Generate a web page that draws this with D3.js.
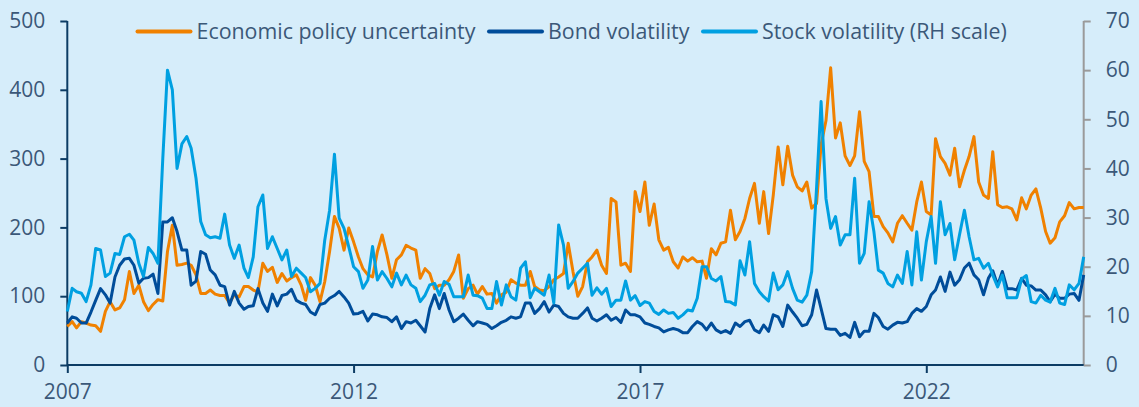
<!DOCTYPE html>
<html>
<head>
<meta charset="utf-8">
<script src="https://cdn.jsdelivr.net/npm/d3@7"></script>
<style>
  html, body { margin: 0; padding: 0; background: #d6edfa; }
  svg { display: block; font-family: "Open Sans", "Noto Sans", sans-serif; }
</style>
</head>
<body>
<div id="chart"></div>
<script>
// monthly, Jan 2007 - Oct 2024
var startMonth = new Date(2007, 0, 1);

var policyUncertainty = [
  56, 63, 54, 63, 61, 58, 57, 49, 78, 92, 80, 83, 95, 136, 104, 116, 92, 79, 88, 95, 93, 165, 203, 145,
  146, 148, 145, 131, 104, 104, 109, 103, 101, 101, 90, 102,
  99, 114, 114, 109, 106, 148, 136, 142, 120, 133, 122, 127, 131, 116, 94, 127, 116, 92, 121, 165, 216, 199, 167, 199,
  179, 157, 140, 131, 128, 165, 189, 160, 126, 153, 160, 174,
  170, 167, 126, 140, 133, 111, 116, 116, 124, 136, 160, 97, 111, 116, 103, 114, 103, 104, 90, 102, 106, 124, 119, 116,
  116, 136, 114, 109, 108, 114, 124, 128, 133, 177, 135, 100,
  114, 150, 157, 167, 145, 133, 242, 237, 145, 148, 136, 252, 223, 266, 203, 234, 182, 167, 171, 150, 141, 157, 151, 156,
  150, 151, 126, 169, 160, 177, 179, 225, 182, 194, 213, 242,
  264, 206, 252, 191, 247, 317, 262, 318, 276, 259, 253, 266, 228, 235, 320, 355, 432, 330, 352, 304, 290, 304, 368, 296,
  281, 216, 216, 201, 192, 179, 206, 217, 206, 196, 237, 266,
  223, 218, 329, 303, 293, 276, 315, 259, 283, 303, 332, 266, 247, 242, 310, 233, 229, 230, 227, 211, 243, 227, 247, 256,
  228, 194, 177, 185, 208, 217, 236, 227, 229, 229
];

var bondVolatility = [
  61, 70, 68, 61, 61, 77, 94, 111, 102, 90, 128, 145, 154, 155, 145, 119, 126, 127, 132, 104, 208, 208, 214, 194,
  167, 167, 116, 122, 165, 161, 138, 131, 116, 114, 87, 107,
  90, 81, 85, 86, 111, 90, 78, 103, 86, 101, 103, 110, 94, 90, 88, 77, 73, 88, 90, 97, 101, 107, 99, 90,
  74, 75, 78, 64, 74, 73, 70, 69, 63, 70, 53, 63,
  61, 65, 57, 48, 82, 102, 82, 104, 80, 63, 68, 74, 65, 57, 63, 61, 59, 53, 57, 62, 65, 70, 68, 70,
  90, 90, 75, 82, 92, 77, 87, 85, 75, 70, 68, 68,
  75, 83, 68, 64, 68, 73, 65, 69, 62, 80, 73, 73, 70, 61, 59, 56, 54, 48, 51, 53, 51, 47, 47, 56,
  63, 59, 51, 61, 51, 47, 50, 46, 61, 56, 63, 65,
  51, 47, 58, 49, 73, 70, 56, 87, 77, 68, 57, 59, 73, 109, 82, 53, 52, 52, 43, 46, 40, 62, 41, 49,
  49, 75, 69, 56, 52, 58, 62, 61, 63, 75, 82, 78,
  85, 102, 109, 128, 107, 135, 116, 124, 141, 148, 131, 124, 102, 126, 137, 116, 136, 111, 111, 109, 126, 116, 115, 109,
  109, 102, 92, 103, 97, 97, 103, 104, 94, 131
];

var stockVolatility = [
  10.9, 15.6, 14.9, 14.6, 12.9, 16.3, 23.7, 23.4, 18.0, 18.7, 22.7, 22.5, 26.1, 26.6, 25.4, 20.7, 18.0, 23.9, 22.7, 20.7, 42, 60.0, 56, 40,
  45, 46.5, 44.1, 38, 29.2, 26.5, 25.9, 26.1, 25.8, 30.7, 24.4, 21.7,
  24.4, 19.7, 17.8, 22.0, 32.2, 34.6, 23.7, 26.1, 23.7, 21.4, 23.4, 18.0, 19.7, 18.7, 17.8, 14.9, 15.6, 16.6, 25.4, 31.5, 42.9, 29.9, 27.8, 24.1,
  20.0, 19.0, 15.6, 17.3, 24.1, 17.3, 19.0, 17.6, 15.9, 18.7, 16.3, 18.3,
  16.3, 15.6, 12.9, 14.2, 16.3, 16.6, 14.2, 17.0, 16.4, 13.9, 13.9, 13.9, 18.3, 14.2, 14.1, 13.6, 11.5, 11.5, 17.0, 12.2, 16.3, 13.9, 13.2, 19.7,
  21.0, 13.7, 15.6, 14.9, 14.2, 18.3, 12.6, 28.5, 24.4, 15.6, 17.0, 18.7,
  19.7, 20.7, 14.2, 15.7, 14.4, 15.6, 11.9, 13.2, 13.2, 17.1, 13.2, 14.1, 12.1, 12.9, 12.6, 10.9, 10.3, 11.2, 10.5, 10.7, 9.5, 10.2, 11.2, 11.0,
  13.6, 20.0, 20.0, 17.6, 17.1, 18.0, 12.9, 12.8, 12.2, 21.2, 18.3, 25.1,
  16.6, 14.9, 13.9, 13.0, 18.7, 15.3, 16.3, 19.0, 15.6, 13.2, 12.8, 14.2, 19.0, 36, 53.6, 33.9, 27.8, 30.2, 24.4, 26.5, 26.5, 38.0, 20.7, 22.7,
  33.2, 27.1, 19.3, 18.7, 16.6, 15.9, 18.3, 16.6, 23.1, 16.3, 27.1, 17.3,
  25.1, 30.2, 20.7, 33.2, 26.5, 28.8, 21.4, 26.5, 31.5, 26.1, 21.4, 21.7, 19.7, 20.7, 18.3, 15.9, 18.3, 13.7, 13.7, 13.7, 17.5, 18.2, 12.9, 12.6,
  14.2, 13.2, 12.8, 15.6, 12.6, 12.3, 16.3, 15.3, 16.6, 22.0
];

var leftTicks = [0, 100, 200, 300, 400, 500];
var rightTicks = [0, 10, 20, 30, 40, 50, 60, 70];
var yearTicks = [2007, 2012, 2017, 2022];

var seriesNames = ["Economic policy uncertainty", "Bond volatility", "Stock volatility (RH scale)"];
var seriesColors = ["#f08100", "#004d9a", "#00a0e1"];

var width = 1139, height = 407;
var plotLeft = 67.3, plotRight = 1083.7, plotTop = 21, plotBottom = 365;
var textColor = "#3b5878";
var axisFont = "21px";

var months = policyUncertainty.map(function (d, i) {
  return d3.timeMonth.offset(startMonth, i);
});

var x = d3.scaleTime()
  .domain([months[0], months[months.length - 1]])
  .range([plotLeft, plotRight]);

var yLeft = d3.scaleLinear().domain([0, 500]).range([plotBottom, plotTop]);
var yRight = d3.scaleLinear().domain([0, 70]).range([plotBottom, plotTop]);

var svg = d3.select("#chart")
  .append("svg")
  .attr("width", width)
  .attr("height", height);

// left axis
var gLeft = svg.append("g")
  .attr("transform", "translate(" + plotLeft + ",0)")
  .call(d3.axisLeft(yLeft).tickValues(leftTicks).tickSize(7).tickPadding(15));

// right axis
var gRight = svg.append("g")
  .attr("transform", "translate(" + plotRight + ",0)")
  .call(d3.axisRight(yRight).tickValues(rightTicks).tickSize(7).tickPadding(15));

// bottom axis
var gBottom = svg.append("g")
  .attr("transform", "translate(0," + plotBottom + ")")
  .call(d3.axisBottom(x)
    .tickValues(yearTicks.map(function (y) { return new Date(y, 0, 1); }))
    .tickFormat(d3.timeFormat("%Y"))
    .tickSize(8).tickPadding(11));

[gLeft, gRight, gBottom].forEach(function (g) {
  g.attr("font-family", null).attr("font-size", null);
  g.selectAll("text")
    .attr("fill", textColor)
    .style("font-size", axisFont);
  g.select(".domain").attr("stroke-width", 2);
  g.selectAll(".tick line").attr("stroke-width", 2);
});

gLeft.select(".domain").attr("stroke", "#0c3c64").attr("d", "M0," + plotTop + "V" + plotBottom);
gLeft.selectAll(".tick line").attr("stroke", "#0c3c64");
gRight.select(".domain").attr("stroke", "#9a9a9a").attr("d", "M0," + plotTop + "V" + plotBottom);
gRight.selectAll(".tick line").attr("stroke", "#9a9a9a");
gBottom.select(".domain").attr("stroke", "#0c3c64").attr("d", "M" + plotLeft + ",0H" + plotRight);
gBottom.selectAll(".tick line").attr("stroke", "#0c3c64");

// lines
var lineLeft = d3.line()
  .x(function (d, i) { return x(months[i]); })
  .y(function (d) { return yLeft(d); });

var lineRight = d3.line()
  .x(function (d, i) { return x(months[i]); })
  .y(function (d) { return yRight(d); });

svg.append("path")
  .datum(policyUncertainty)
  .attr("fill", "none")
  .attr("stroke", seriesColors[0])
  .attr("stroke-width", 3)
  .attr("stroke-linejoin", "round")
  .attr("d", lineLeft);

svg.append("path")
  .datum(bondVolatility)
  .attr("fill", "none")
  .attr("stroke", seriesColors[1])
  .attr("stroke-width", 3)
  .attr("stroke-linejoin", "round")
  .attr("d", lineLeft);

svg.append("path")
  .datum(stockVolatility)
  .attr("fill", "none")
  .attr("stroke", seriesColors[2])
  .attr("stroke-width", 3)
  .attr("stroke-linejoin", "round")
  .attr("d", lineRight);

// legend
var legendX = [137.5, 489, 703];
var legend = svg.selectAll(".legend")
  .data(seriesNames)
  .enter()
  .append("g")
  .attr("class", "legend")
  .attr("transform", function (d, i) {
    return "translate(" + legendX[i] + ",31.5)";
  });

legend.append("line")
  .attr("x1", 0)
  .attr("x2", 53)
  .attr("stroke", function (d, i) { return seriesColors[i]; })
  .attr("stroke-width", 4)
  .attr("stroke-linecap", "round");

legend.append("text")
  .attr("x", 59)
  .attr("dy", "0.35em")
  .attr("fill", textColor)
  .style("font-size", "21.4px")
  .text(function (d) { return d; });
</script>
</body>
</html>
